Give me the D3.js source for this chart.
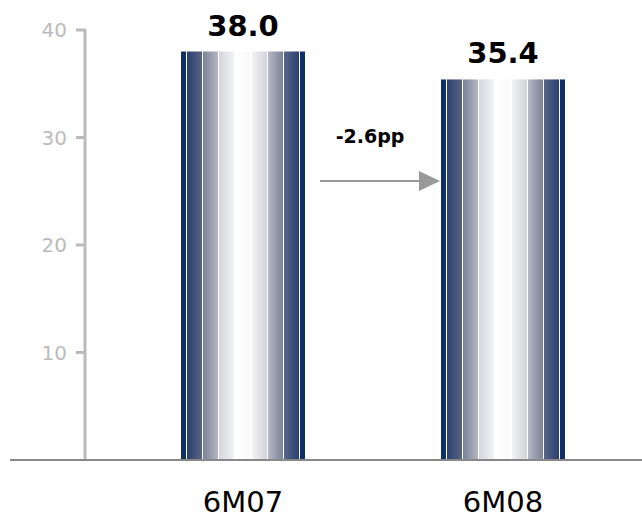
<!DOCTYPE html>
<html>
<head>
<meta charset="utf-8">
<script src="https://cdn.jsdelivr.net/npm/d3@7.9.0/dist/d3.min.js"></script>
<style>
  body { margin: 0; background: #fff; }
  svg { display: block; font-family: "DejaVu Sans", Verdana, sans-serif; }
</style>
</head>
<body>
<svg id="chart" width="642" height="520"></svg>
<script>
const categories = ['6M07', '6M08'];
const values = [38.0, 35.4];
const tickValues = [10, 20, 30, 40];
const changeLabel = '-2.6pp';

const svg = d3.select('#chart');

const y = d3.scaleLinear().domain([0, 40]).range([460, 30]);
const x = d3.scaleBand()
    .domain(categories)
    .range([113, 633])
    .paddingInner(0.523)
    .paddingOuter(0.2615);

// striped "cylinder" fill: dark edges, white centre, thin white gaps
const strips = [
    [0.00, 0.04, '#0f2f66', '#0f2f66'],
    [0.05, 0.17, '#2a4172', '#58647f'],
    [0.18, 0.30, '#7b8398', '#b4b7c3'],
    [0.31, 0.43, '#d4d6dc', '#f3f3f5'],
    [0.44, 0.56, '#ffffff', '#f8f8f9'],
    [0.57, 0.69, '#f3f3f5', '#d2d4da'],
    [0.70, 0.82, '#b6b9c5', '#7c8399'],
    [0.83, 0.95, '#5a6686', '#2a4071'],
    [0.96, 1.00, '#0f2f66', '#0f2f66']
];
const grad = svg.append('defs').append('linearGradient')
    .attr('id', 'barFill')
    .attr('x1', 0).attr('x2', 1).attr('y1', 0).attr('y2', 0);
strips.forEach((s, i) => {
    if (i > 0) {
        grad.append('stop').attr('offset', strips[i - 1][1]).attr('stop-color', '#fff');
        grad.append('stop').attr('offset', s[0]).attr('stop-color', '#fff');
    }
    grad.append('stop').attr('offset', s[0]).attr('stop-color', s[2]);
    grad.append('stop').attr('offset', s[1]).attr('stop-color', s[3]);
});

// y axis
const yAxis = svg.append('g');
yAxis.append('line')
    .attr('x1', 85).attr('x2', 85)
    .attr('y1', y(40) - 1).attr('y2', y(0))
    .attr('stroke', '#bbb').attr('stroke-width', 3);
yAxis.selectAll('.tick')
    .data(tickValues)
    .enter()
    .append('line')
    .attr('x1', 76).attr('x2', 86)
    .attr('y1', (d) => y(d)).attr('y2', (d) => y(d))
    .attr('stroke', '#bbb').attr('stroke-width', 3);
yAxis.selectAll('text')
    .data(tickValues)
    .enter()
    .append('text')
    .attr('x', 67)
    .attr('y', (d) => y(d))
    .attr('dy', '0.36em')
    .attr('text-anchor', 'end')
    .attr('fill', '#bbb')
    .attr('font-size', 20)
    .text((d) => d);

// bars
svg.selectAll('rect.bar')
    .data(values)
    .enter()
    .append('rect')
    .attr('class', 'bar')
    .attr('x', (d, i) => x(categories[i]))
    .attr('y', (d) => y(d))
    .attr('width', x.bandwidth())
    .attr('height', (d) => y(0) - y(d))
    .attr('fill', 'url(#barFill)');

// value labels
svg.selectAll('text.value')
    .data(values)
    .enter()
    .append('text')
    .attr('class', 'value')
    .attr('x', (d, i) => x(categories[i]) + x.bandwidth() / 2)
    .attr('y', (d) => y(d) - 16)
    .attr('text-anchor', 'middle')
    .attr('font-size', 29)
    .attr('font-weight', 'bold')
    .attr('fill', '#000')
    .text((d) => d.toFixed(1));

// baseline
svg.append('line')
    .attr('x1', 10).attr('x2', 642)
    .attr('y1', y(0)).attr('y2', y(0))
    .attr('stroke', '#888').attr('stroke-width', 2);

// category labels
svg.selectAll('text.cat')
    .data(categories)
    .enter()
    .append('text')
    .attr('class', 'cat')
    .attr('x', (d) => x(d) + x.bandwidth() / 2)
    .attr('y', 512)
    .attr('text-anchor', 'middle')
    .attr('font-size', 29)
    .attr('fill', '#000')
    .text((d) => d);

// change arrow
const ax1 = x(categories[0]) + x.bandwidth() + 15;
const ax2 = x(categories[1]) - 1;
const ay = 181;
svg.append('line')
    .attr('x1', ax1).attr('x2', ax2 - 20)
    .attr('y1', ay).attr('y2', ay)
    .attr('stroke', '#999').attr('stroke-width', 2);
svg.append('path')
    .attr('d', `M${ax2 - 21},${ay - 10}L${ax2},${ay}L${ax2 - 21},${ay + 10}Z`)
    .attr('fill', '#999');
svg.append('text')
    .attr('x', 370)
    .attr('y', 143)
    .attr('text-anchor', 'middle')
    .attr('font-size', 19)
    .attr('font-weight', 'bold')
    .text(changeLabel);
</script>
</body>
</html>
